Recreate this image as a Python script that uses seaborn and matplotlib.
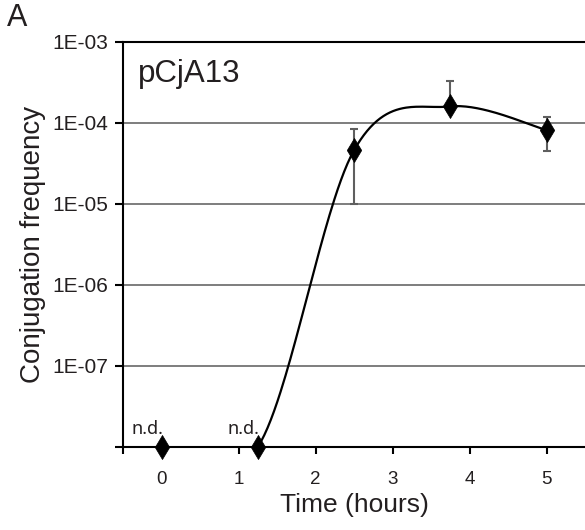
import numpy as np
import matplotlib
matplotlib.use("Agg")
import matplotlib.pyplot as plt
import seaborn as sns
import pandas as pd

# ---- data ----
time_h = [0.0, 1.25, 2.5, 3.75, 5.0]
freq = [1e-8, 1e-8, 4.6e-5, 1.6e-4, 8.2e-5]
err_low = [1e-8, 1e-8, 1.0e-5, 1.4e-4, 4.5e-5]
err_high = [1e-8, 1e-8, 8.5e-5, 3.3e-4, 1.2e-4]
nd_points = [0.0, 1.25]
y_ticks = [1e-8, 1e-7, 1e-6, 1e-5, 1e-4, 1e-3]
y_ticklabels = ["", "1E-07", "1E-06", "1E-05", "1E-04", "1E-03"]
x_ticks = [-0.5, 0, 1, 2, 3, 4, 5]
x_ticklabels = ["", "0", "1", "2", "3", "4", "5"]
plasmid = "pCjA13"
panel = "A"

sns.set_theme(style="white")
plt.rcParams['font.family'] = ['Liberation Sans', 'DejaVu Sans']
txt = '#231f20'

fig = plt.figure(figsize=(5.85, 5.30), dpi=100)
ax = fig.add_axes([0.2103, 0.1566, 0.7897, 0.7642])

# smoothed curve (Catmull-Rom in screen-like space: x, log10 y)
sx, sy = 77.3, 81.0
P = np.column_stack([np.array(time_h) * sx, np.log10(freq) * sy])
Pext = np.vstack([P[0], P, P[-1]])
xs, ys = [], []
t = np.linspace(0, 1, 60)
for i in range(1, len(Pext) - 2):
    p0, p1, p2, p3 = Pext[i - 1], Pext[i], Pext[i + 1], Pext[i + 2]
    c1 = p1 + (p2 - p0) / 6
    c2 = p2 - (p3 - p1) / 6
    b = ((1 - t) ** 3)[:, None] * p1 + (3 * (1 - t) ** 2 * t)[:, None] * c1 \
        + (3 * (1 - t) * t ** 2)[:, None] * c2 + (t ** 3)[:, None] * p2
    xs.extend(b[:, 0] / sx)
    ys.extend(10 ** (b[:, 1] / sy))
curve = pd.DataFrame({"x": xs, "y": ys})
sns.lineplot(data=curve, x="x", y="y", sort=False, estimator=None,
             color="black", lw=1.6, ax=ax, zorder=3)

# error bars
fr = np.array(freq)
yerr = np.vstack([fr - np.array(err_low), np.array(err_high) - fr])
ax.errorbar(time_h[2:], fr[2:], yerr=yerr[:, 2:], fmt="none", ecolor="#5f5f5f",
            elinewidth=1.5, capsize=3.2, capthick=1.5, zorder=2)

# markers
df = pd.DataFrame({"t": time_h, "f": freq})
sns.scatterplot(data=df, x="t", y="f", marker="d", s=150, color="black",
                edgecolor="black", linewidth=0.5, ax=ax, zorder=5, clip_on=False)

ax.set_yscale("log")
ax.set_ylim(1e-8, 1e-3)
ax.set_xlim(-0.5, 5.5)
ax.set_yticks(y_ticks)
ax.set_yticklabels(y_ticklabels)
ax.yaxis.set_minor_locator(matplotlib.ticker.NullLocator())
ax.set_xticks(x_ticks)
ax.set_xticklabels(x_ticklabels)

for yv in y_ticks[1:-1]:
    ax.axhline(yv, color="#5a5a5a", lw=1.1, zorder=1)

for s in ["left", "bottom", "top"]:
    ax.spines[s].set_color("black")
    ax.spines[s].set_linewidth(1.5)
ax.spines["right"].set_visible(False)

ax.tick_params(axis="y", direction="out", length=6, width=1.5, color="black",
               labelsize=15, labelcolor=txt, pad=4.5, left=True)
ax.tick_params(axis="x", direction="out", length=5, width=1.5, color="black",
               labelsize=13.5, labelcolor=txt, pad=12, bottom=True)

ax.set_xlabel("Time (hours)", fontsize=19, color=txt, labelpad=4)
ax.set_ylabel("Conjugation frequency", fontsize=20, color=txt, labelpad=4.5)

ax.text(0.033, 0.901, plasmid, transform=ax.transAxes, fontsize=22.5, color=txt,
        ha="left", va="baseline")
fig.text(0.012, 0.995, panel, fontsize=22, color=txt, ha="left", va="top")

for xp in nd_points:
    ax.annotate("n.d.", xy=(xp, 1e-8), xytext=(-10, 9.4), textcoords="offset points",
                ha="center", va="baseline", fontsize=13, color=txt,
                family=["Noto Sans", "DejaVu Sans"])

fig.savefig("out.png", dpi=100)
